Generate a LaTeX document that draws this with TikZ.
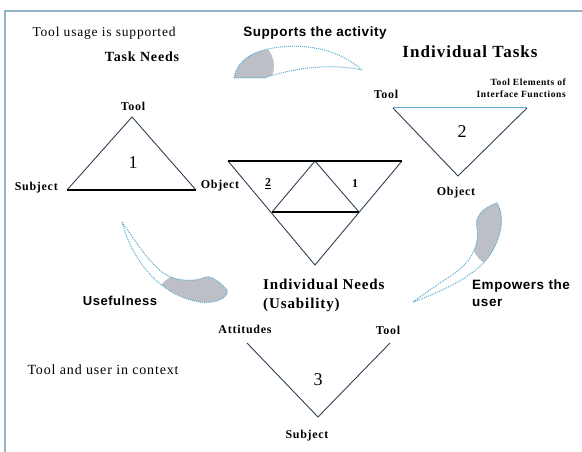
\documentclass[tikz,border=0pt]{standalone}
\usepackage{fontspec}
\setmainfont{Liberation Serif}
\newfontfamily\lblserif[LetterSpace=6]{Liberation Serif}
\newfontfamily\lblsans[LetterSpace=4]{Liberation Sans}
\usetikzlibrary{calc}
\definecolor{lineDark}{RGB}{45,65,85}
\definecolor{swooshBlue}{RGB}{90,170,210}
\definecolor{swooshGrey}{RGB}{188,192,198}
\definecolor{frameBlue}{RGB}{150,180,200}

\begin{document}
\begin{tikzpicture}[x=1pt,y=-1pt,
  side/.style={lineDark, line width=0.9pt},
  thickside/.style={black, line width=2pt},
  vlabel/.style={font=\lblserif\bfseries\fontsize{12}{13}\selectfont, inner sep=1pt},
  num/.style={font=\fontsize{18}{18}\selectfont, inner sep=1pt},
  swoosh/.style={swooshBlue, densely dotted, line width=1pt}]

\useasboundingbox (0,0) rectangle (582,452);

% cadre
\draw[frameBlue, line width=1.2pt] (5,452) -- (5,11) -- (582,11);

% Textes du haut
\node[anchor=west, font=\lblserif\fontsize{13.5}{15}\selectfont] (usageTxt) at (29,33) {Tool usage is supported};
\node[font=\lblserif\bfseries\fontsize{14}{16}\selectfont] (taskNeeds) at (142,57) {Task Needs};
\node[font=\lblsans\bfseries\fontsize{13.5}{15}\selectfont] (supportTxt) at (315,33) {Supports the activity};
\node[font=\lblserif\bfseries\fontsize{17}{19}\selectfont] (indivTasks) at (470,52) {Individual Tasks};

% Triangle 1
\coordinate (t1top) at (132,117);
\coordinate (t1left) at (67,190);
\coordinate (t1right) at (196,190);
\draw[side] (t1left) -- (t1top) -- (t1right);
\draw[thickside] (t1left) -- (t1right);
\node[vlabel] (t1tool) at (133,106) {Tool};
\node[vlabel, anchor=east] (t1subject) at (59,188) {Subject};
\node[vlabel] (sharedObject) at (220,186) {Object};
\node[num] (t1num) at (133,163) {1};

% Triangle 2
\coordinate (t2left) at (393,108);
\coordinate (t2right) at (527,108);
\coordinate (t2bottom) at (458,176);
\draw[side] (t2left) -- (t2bottom) -- (t2right);
\draw[swooshBlue, line width=1pt] (t2left) -- (t2right);
\node[vlabel] (t2tool) at (386,94) {Tool};
\node[anchor=east, align=right, inner sep=1pt,
      font=\lblserif\bfseries\fontsize{9.5}{11.5}\selectfont] (t2elements) at (567,88)
      {Tool Elements of\\Interface Functions};
\node[num] (t2num) at (462,132) {2};
\node[vlabel] (t2object) at (456,193) {Object};

% Triangle central
\coordinate (cTopLeft) at (228,161);
\coordinate (cTopRight) at (402,161);
\coordinate (cBottom) at (315,265);
\coordinate (cInnerTop) at (315,161);
\coordinate (cInnerLeft) at (272,212);
\coordinate (cInnerRight) at (359,212);
\draw[side] (cTopLeft) -- (cBottom) -- (cTopRight);
\draw[side] (cInnerLeft) -- (cInnerTop) -- (cInnerRight);
\draw[thickside] (cTopLeft) -- (cTopRight);
\draw[thickside] (cInnerLeft) -- (cInnerRight);
\node[font=\bfseries\fontsize{12}{12}\selectfont, inner sep=1pt] (cNumTwo) at (268,184) {\underline{2}};
\node[font=\bfseries\fontsize{12}{12}\selectfont, inner sep=1pt] (cNumOne) at (355,184) {1};
\node[anchor=north west, align=left, inner sep=0pt,
      font=\lblserif\bfseries\fontsize{15}{19}\selectfont] (indivNeeds) at (263,279)
      {Individual Needs\\(Usability)};

% Triangle 3
\coordinate (t3left) at (247,343);
\coordinate (t3bottom) at (318,417);
\coordinate (t3right) at (390,343);
\draw[side] (t3left) -- (t3bottom) -- (t3right);
\node[vlabel] (t3attitudes) at (245,329) {Attitudes};
\node[vlabel] (t3tool) at (388,330) {Tool};
\node[num] (t3num) at (318,380) {3};
\node[vlabel] (t3subject) at (307,436) {Subject};

% Textes du bas
\node[font=\lblsans\bfseries\fontsize{13}{15}\selectfont] (useful) at (120,301) {Usefulness};
\node[anchor=north west, align=left, inner sep=0pt,
      font=\lblsans\bfseries\fontsize{13.5}{17}\selectfont] (empowers) at (472,280)
      {Empowers the\\user};
\node[anchor=west, font=\lblserif\fontsize{14}{16}\selectfont] (contextTxt) at (24,370) {Tool and user in context};

% Fleche du haut
\begin{scope}
  \clip (234,78) .. controls (236,66) and (245,54) .. (268,49)
        .. controls (300,42) and (338,48) .. (362,70)
        .. controls (335,64) and (300,66) .. (264,78) -- cycle;
  \fill[swooshGrey] (248,66) circle[radius=26pt];
\end{scope}
\draw[swoosh] (234,78) .. controls (236,66) and (245,54) .. (268,49)
      .. controls (300,42) and (338,48) .. (362,70)
      .. controls (335,64) and (300,66) .. (264,78) -- cycle;

% Fleche de droite
\begin{scope}
  \clip (413,302) .. controls (440,292) and (480,275) .. (493,250)
        .. controls (504,230) and (503,212) .. (497,203)
        .. controls (484,207) and (474,216) .. (477,228)
        .. controls (480,246) and (470,262) .. (455,273)
        .. controls (440,283) and (425,293) .. (413,302) -- cycle;
  \fill[swooshGrey] (490,232) ellipse[x radius=20pt, y radius=32pt];
\end{scope}
\draw[swoosh] (413,302) .. controls (440,292) and (480,275) .. (493,250)
      .. controls (504,230) and (503,212) .. (497,203)
      .. controls (484,207) and (474,216) .. (477,228)
      .. controls (480,246) and (470,262) .. (455,273)
      .. controls (440,283) and (425,293) .. (413,302) -- cycle;

% Fleche de gauche
\begin{scope}
  \clip (122,222) .. controls (132,260) and (160,296) .. (200,302)
        .. controls (215,304) and (229,298) .. (227,290)
        .. controls (220,282) and (212,276) .. (206,277)
        .. controls (195,282) and (175,282) .. (162,272)
        .. controls (145,258) and (135,240) .. (122,222) -- cycle;
  \fill[swooshGrey] (205,290) ellipse[x radius=45pt, y radius=20pt];
\end{scope}
\draw[swoosh] (122,222) .. controls (132,260) and (160,296) .. (200,302)
      .. controls (215,304) and (229,298) .. (227,290)
      .. controls (220,282) and (212,276) .. (206,277)
      .. controls (195,282) and (175,282) .. (162,272)
      .. controls (145,258) and (135,240) .. (122,222) -- cycle;

\end{tikzpicture}
\end{document}
